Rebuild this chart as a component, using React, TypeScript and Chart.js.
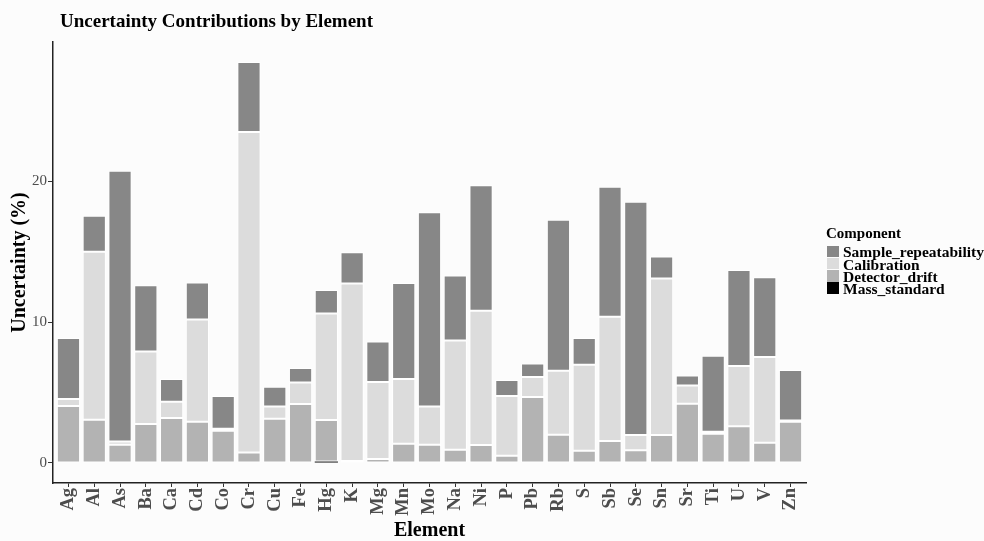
import React, { useEffect, useRef } from 'react';
import { Chart, registerables } from 'chart.js';

Chart.register(...registerables);

const elements = ['Ag', 'Al', 'As', 'Ba', 'Ca', 'Cd', 'Co', 'Cr', 'Cu', 'Fe', 'Hg', 'K', 'Mg', 'Mn', 'Mo', 'Na', 'Ni', 'P', 'Pb', 'Rb', 'S', 'Sb', 'Se', 'Sn', 'Sr', 'Ti', 'U', 'V', 'Zn'];

const massStandard = [0, 0, 0, 0, 0, 0, 0, 0, 0, 0, 0.1, 0, 0, 0, 0, 0, 0, 0, 0, 0, 0, 0, 0, 0, 0, 0, 0, 0, 0];
const detectorDrift = [4.04, 3.07, 1.3, 2.77, 3.19, 2.93, 2.29, 0.75, 3.14, 4.18, 2.95, 0.15, 0.28, 1.37, 1.3, 0.94, 1.28, 0.52, 4.68, 2.01, 0.87, 1.56, 0.9, 1.99, 4.21, 2.08, 2.6, 1.44, 2.93];
const calibration = [0.5, 11.92, 0.23, 5.15, 1.16, 7.26, 0.14, 22.75, 0.87, 1.54, 7.56, 12.59, 5.46, 4.59, 2.71, 7.76, 9.52, 4.23, 1.42, 4.54, 6.1, 8.82, 1.09, 11.1, 1.29, 0.14, 4.28, 6.08, 0.09];
const sampleRepeatability = [4.33, 2.55, 19.22, 4.7, 1.61, 2.62, 2.32, 4.96, 1.4, 1.02, 1.66, 2.22, 2.89, 6.81, 13.79, 4.6, 8.92, 1.14, 0.96, 10.71, 1.9, 9.22, 16.56, 1.56, 0.71, 5.39, 6.81, 5.67, 3.58];

const legendNames = ['Sample_repeatability', 'Calibration', 'Detector_drift', 'Mass_standard'];
const legendColors = ['#878787', '#dcdcdc', '#b3b3b3', '#000000'];
const yTickValues = [0, 10, 20];

const SERIF = "'Liberation Serif', 'Times New Roman', serif";

export default function App() {
  const canvasRef = useRef<HTMLCanvasElement>(null);

  useEffect(() => {
    const canvas = canvasRef.current;
    if (!canvas) return;
    const barBase = { borderColor: '#ffffff', borderWidth: 1, borderSkipped: false as const };
    const chart = new Chart(canvas, {
      type: 'bar',
      data: {
        labels: elements,
        datasets: [
          { label: 'Mass_standard', data: massStandard, backgroundColor: legendColors[3], borderWidth: 0 },
          { label: 'Detector_drift', data: detectorDrift, backgroundColor: legendColors[2], ...barBase },
          { label: 'Calibration', data: calibration, backgroundColor: legendColors[1], ...barBase },
          { label: 'Sample_repeatability', data: sampleRepeatability, backgroundColor: legendColors[0], ...barBase },
        ],
      },
      options: {
        responsive: false,
        animation: false,
        devicePixelRatio: 1,
        layout: { padding: { left: 0, top: 42, right: 178, bottom: 0 } },
        datasets: { bar: { barPercentage: 0.9, categoryPercentage: 1 } },
        plugins: {
          legend: { display: false },
          title: { display: false },
          tooltip: { enabled: false },
        },
        scales: {
          x: {
            stacked: true,
            offset: true,
            grid: { display: true, offset: false, drawOnChartArea: false, drawTicks: true, tickLength: 4, color: '#333333', lineWidth: 1 },
            border: { display: true, color: '#222222', width: 1.5 },
            ticks: {
              autoSkip: false,
              minRotation: 90,
              maxRotation: 90,
              padding: 1,
              color: '#4d4d4d',
              font: { family: SERIF, weight: 'bold', size: 18.5 },
            },
            title: {
              display: true,
              text: 'Element',
              color: '#000000',
              font: { family: SERIF, weight: 'bold', size: 20, lineHeight: 1 },
              padding: 0,
            },
            afterBuildTicks: (s: any) => {
              s._startValue = -0.6;
              s._valueRange = elements.length + 0.2;
            },
            afterFit: (s: any) => {
              s.height = 58;
            },
          },
          y: {
            stacked: true,
            min: -1.42,
            max: 29.88,
            grid: { display: true, drawOnChartArea: false, drawTicks: true, tickLength: 5, color: '#333333', lineWidth: 1 },
            border: { display: true, color: '#222222', width: 1.5 },
            ticks: {
              padding: 1,
              color: '#4d4d4d',
              font: { family: SERIF, size: 15 },
            },
            title: {
              display: true,
              text: 'Uncertainty (%)',
              color: '#000000',
              font: { family: SERIF, weight: 'bold', size: 20, lineHeight: 1 },
              padding: { top: 9.5, bottom: 0 },
            },
            afterBuildTicks: (s: any) => {
              s.ticks = yTickValues.map((v) => ({ value: v }));
            },
            afterFit: (s: any) => {
              s.width = 53;
            },
          },
        },
      } as any,
    });
    return () => chart.destroy();
  }, []);

  const rowStep = 12.2;
  return (
    <div
      style={{
        position: 'fixed',
        left: 0,
        top: 0,
        width: 984,
        height: 541,
        background: '#fcfcfc',
        overflow: 'hidden',
        fontFamily: SERIF,
      }}
    >
      <canvas ref={canvasRef} width={984} height={541} style={{ position: 'absolute', left: 0, top: 0, width: 984, height: 541 }} />
      <div
        style={{
          position: 'absolute',
          left: 60,
          top: 11,
          fontSize: 19,
          lineHeight: '19px',
          fontWeight: 'bold',
          color: '#000',
          whiteSpace: 'nowrap',
        }}
      >
        Uncertainty Contributions by Element
      </div>
      <div
        style={{
          position: 'absolute',
          left: 826,
          top: 225.5,
          fontSize: 15,
          lineHeight: '15px',
          fontWeight: 'bold',
          color: '#000',
          whiteSpace: 'nowrap',
        }}
      >
        Component
      </div>
      {legendNames.map((name, i) => (
        <React.Fragment key={name}>
          <div
            style={{
              position: 'absolute',
              left: 826.5,
              top: 245.8 + i * rowStep,
              width: 12,
              height: 11.4,
              background: legendColors[i],
            }}
          />
          <div
            style={{
              position: 'absolute',
              left: 843,
              top: 257.3 + i * rowStep - 13,
              fontSize: 15.5,
              lineHeight: '15.5px',
              fontWeight: 'bold',
              color: '#000',
              whiteSpace: 'nowrap',
            }}
          >
            {name}
          </div>
        </React.Fragment>
      ))}
    </div>
  );
}
